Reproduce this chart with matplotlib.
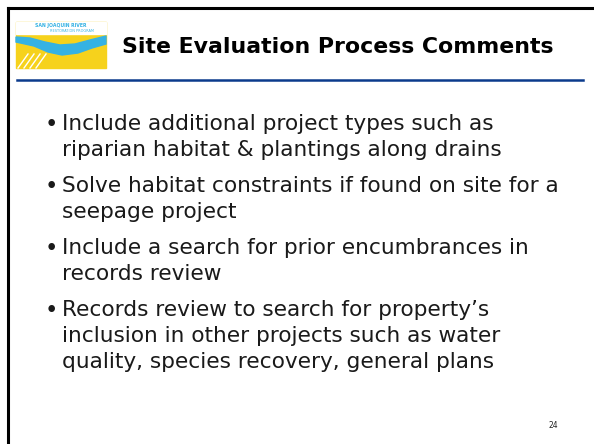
import matplotlib
matplotlib.use("Agg")
import matplotlib.pyplot as plt
from matplotlib.patches import Rectangle, Polygon
from matplotlib.lines import Line2D

W, H = 594, 444
title = "Site Evaluation Process Comments"
bullets = [
    ["Include additional project types such as", "riparian habitat & plantings along drains"],
    ["Solve habitat constraints if found on site for a", "seepage project"],
    ["Include a search for prior encumbrances in", "records review"],
    ["Records review to search for property\u2019s",
     "inclusion in other projects such as water",
     "quality, species recovery, general plans"],
]
page_number = "24"

fig = plt.figure(figsize=(W / 100, H / 100), dpi=100)
ax = fig.add_axes([0, 0, 1, 1])
ax.set_xlim(0, W)
ax.set_ylim(H, 0)
ax.axis("off")
renderer = fig.canvas.get_renderer()


def fit(txt, target_w):
    w = txt.get_window_extent(renderer).width
    txt.set_fontsize(txt.get_fontsize() * target_w / w)
    return txt.get_fontsize()


# slide border (top & left)
ax.add_line(Line2D([8, W], [8, 8], color="black", lw=2.2))
ax.add_line(Line2D([8, 8], [8, H], color="black", lw=2.2))

# logo
ax.add_patch(Rectangle((16, 22), 90, 46, color="#f6d21c", zorder=1))
ax.add_patch(Rectangle((16, 22), 90, 12, color="white", zorder=2))
river_top = [(16, 37), (30, 38), (45, 42), (60, 45), (75, 44), (90, 40), (106, 36)]
river_bot = [(106, 44), (92, 48), (78, 53), (62, 55), (48, 52), (34, 46), (16, 42)]
ax.add_patch(Polygon(river_top + river_bot, closed=True, color="#35b2e3", zorder=3))
ax.text(61, 25.5, "SAN JOAQUIN RIVER", fontsize=3.3, color="#35b2e3", ha="center",
        va="center", fontweight="bold", zorder=4)
ax.text(72, 30.5, "RESTORATION PROGRAM", fontsize=2.5, color="#35b2e3", ha="center",
        va="center", zorder=4)
for x0 in (18, 24, 30, 36):
    ax.add_line(Line2D([x0, x0 + 10], [68, 54], color="white", lw=1.0, zorder=4))

# title
t = ax.text(122, 47, title, fontsize=15.5, fontweight="bold", color="black",
            family=["DejaVu Sans"], va="center", ha="left")
fit(t, 429)
ax.add_line(Line2D([17, 583], [80, 80], color="#0b3a8c", lw=1.8))

# bullets
probe = ax.text(62, 0, bullets[0][1], fontsize=15, family=["DejaVu Sans"])
fs = fit(probe, 438)
probe.remove()

y = 124
for item in bullets:
    ax.text(45, y, "\u2022", fontsize=fs * 1.05, color="#1a1a1a", va="center", ha="left",
            family=["DejaVu Sans"])
    for line in item:
        ax.text(62, y, line, fontsize=fs, color="#1a1a1a", va="center", ha="left",
                family=["DejaVu Sans"])
        y += 26
    y += 10

ax.text(553, 425, page_number, fontsize=5.5, color="#222222", ha="center", va="center",
        family=["DejaVu Sans"])

fig.savefig("out.png", dpi=100)
